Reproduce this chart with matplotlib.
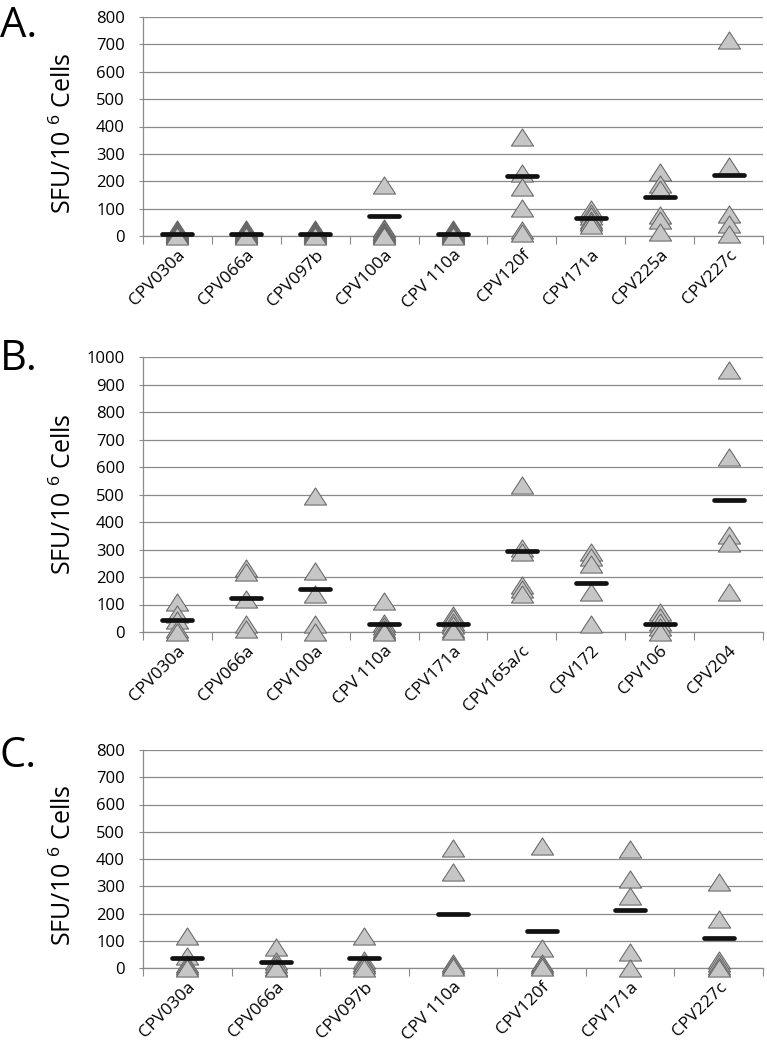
import numpy as np
import matplotlib
matplotlib.use("Agg")
import matplotlib.pyplot as plt
from matplotlib.markers import MarkerStyle
from matplotlib.path import Path
from matplotlib.transforms import ScaledTranslation

plt.rcParams["font.family"] = ["Open Sans", "DejaVu Sans"]
plt.rcParams["mathtext.fontset"] = "custom"
plt.rcParams["mathtext.rm"] = "Open Sans"

# panel A
a_labels = ["CPV030a", "CPV066a", "CPV097b", "CPV100a", "CPV 110a",
            "CPV120f", "CPV171a", "CPV225a", "CPV227c"]
a_values = [
    [24, 21, 18, 15, 12, 9, 6, 3, 0],
    [24, 21, 18, 15, 12, 9, 6, 3, 0],
    [24, 21, 18, 15, 12, 9, 6, 3, 0],
    [187, 28, 24, 20, 16, 12, 8, 4, 0],
    [24, 21, 18, 15, 12, 9, 6, 3, 0],
    [363, 230, 180, 103, 22, 10],
    [100, 85, 72, 60, 50, 40],
    [235, 190, 172, 76, 57, 13],
    [715, 257, 82, 45, 7],
]
a_means = [9, 9, 9, 72, 9, 220, 64, 143, 223]

# panel B
b_labels = ["CPV030a", "CPV066a", "CPV100a", "CPV 110a", "CPV171a",
            "CPV165a/c", "CPV172", "CPV106", "CPV204"]
b_values = [
    [109, 67, 42, 12, 0],
    [233, 218, 121, 30, 12],
    [495, 223, 139, 30, 0],
    [111, 32, 22, 12, 5, 0],
    [63, 50, 38, 25, 12, 3],
    [533, 305, 290, 170, 155, 140],
    [291, 273, 248, 145, 30],
    [73, 55, 36, 18, 0],
    [952, 636, 352, 325, 145],
]
b_means = [45, 124, 156, 30, 30, 295, 179, 29, 480]

# panel C
c_labels = ["CPV030a", "CPV066a", "CPV097b", "CPV 110a", "CPV120f",
            "CPV171a", "CPV227c"]
c_values = [
    [116, 45, 15, 8, 0],
    [76, 25, 15, 5, 0],
    [116, 30, 20, 10, 0],
    [440, 351, 18, 10, 3],
    [449, 72, 20, 10, 3],
    [437, 327, 263, 60, 0],
    [317, 178, 30, 18, 8, 0],
]
c_means = [37, 21, 37, 200, 136, 213, 111]

W, H = 767, 1050
tri = Path([(0, 0.77), (-1, -0.77), (1, -0.77), (0, 0.77)],
           [Path.MOVETO, Path.LINETO, Path.LINETO, Path.CLOSEPOLY])
bar = MarkerStyle("_", capstyle="round")
grid_c = "#8a8a8a"


def panel(fig, top_px, bot_px, labels, values, means, ymax, letter, letter_y,
          label_y=0.5):
    ax = fig.add_axes([143 / W, 1 - bot_px / H, 620 / W, (bot_px - top_px) / H])
    n = len(labels)
    for i, vals in enumerate(values):
        ax.plot([i] * len(vals), vals, ls="none", marker=tri, ms=16,
                mfc="#c6c6c6", mec="#666666", mew=0.75, clip_on=False, zorder=3)
    ax.plot(np.arange(n), means, ls="none", marker=bar, ms=21.5, mew=3.4,
            color="#111111", clip_on=False, zorder=4)
    ax.set_xlim(-0.5, n - 0.5)
    ax.set_ylim(0, ymax)
    ax.set_yticks(range(0, ymax + 1, 100))
    ax.set_xticks(np.arange(n + 1) - 0.5)
    ax.set_xticklabels([])
    ax.set_xticks(np.arange(n), labels, minor=True, rotation=45, ha="right",
                  va="top", rotation_mode="anchor")
    shift = ScaledTranslation(-5 / 100, 0, fig.dpi_scale_trans)
    for lab in ax.xaxis.get_minorticklabels():
        lab.set_transform(lab.get_transform() + shift)
    ax.tick_params(axis="x", which="major", length=5.8, color=grid_c, width=0.8)
    ax.tick_params(axis="x", which="minor", length=0, pad=8, labelsize=12.5)
    ax.tick_params(axis="y", length=3, color=grid_c, width=0.8, pad=10,
                   labelsize=12)
    ax.yaxis.grid(True, color=grid_c, lw=0.9)
    ax.set_axisbelow(True)
    for s in ("top", "right"):
        ax.spines[s].set_visible(False)
    for s in ("left", "bottom"):
        ax.spines[s].set_color(grid_c)
        ax.spines[s].set_linewidth(0.9)
    ax.set_ylabel(r"SFU/10 $\mathregular{^6}$ Cells", fontsize=18)
    ax.yaxis.set_label_coords(-0.106, label_y)
    fig.text(0.0, 1 - letter_y / H, letter, fontsize=30, va="top", ha="left")
    return ax


fig = plt.figure(figsize=(W / 100, H / 100), dpi=100)
panel(fig, 17, 236, a_labels, a_values, a_means, 800, "A.", 5, 0.47)
panel(fig, 357, 632, b_labels, b_values, b_means, 1000, "B.", 338, 0.5)
panel(fig, 750, 968, c_labels, c_values, c_means, 800, "C.", 735, 0.47)
fig.savefig("out.png", dpi=100)
